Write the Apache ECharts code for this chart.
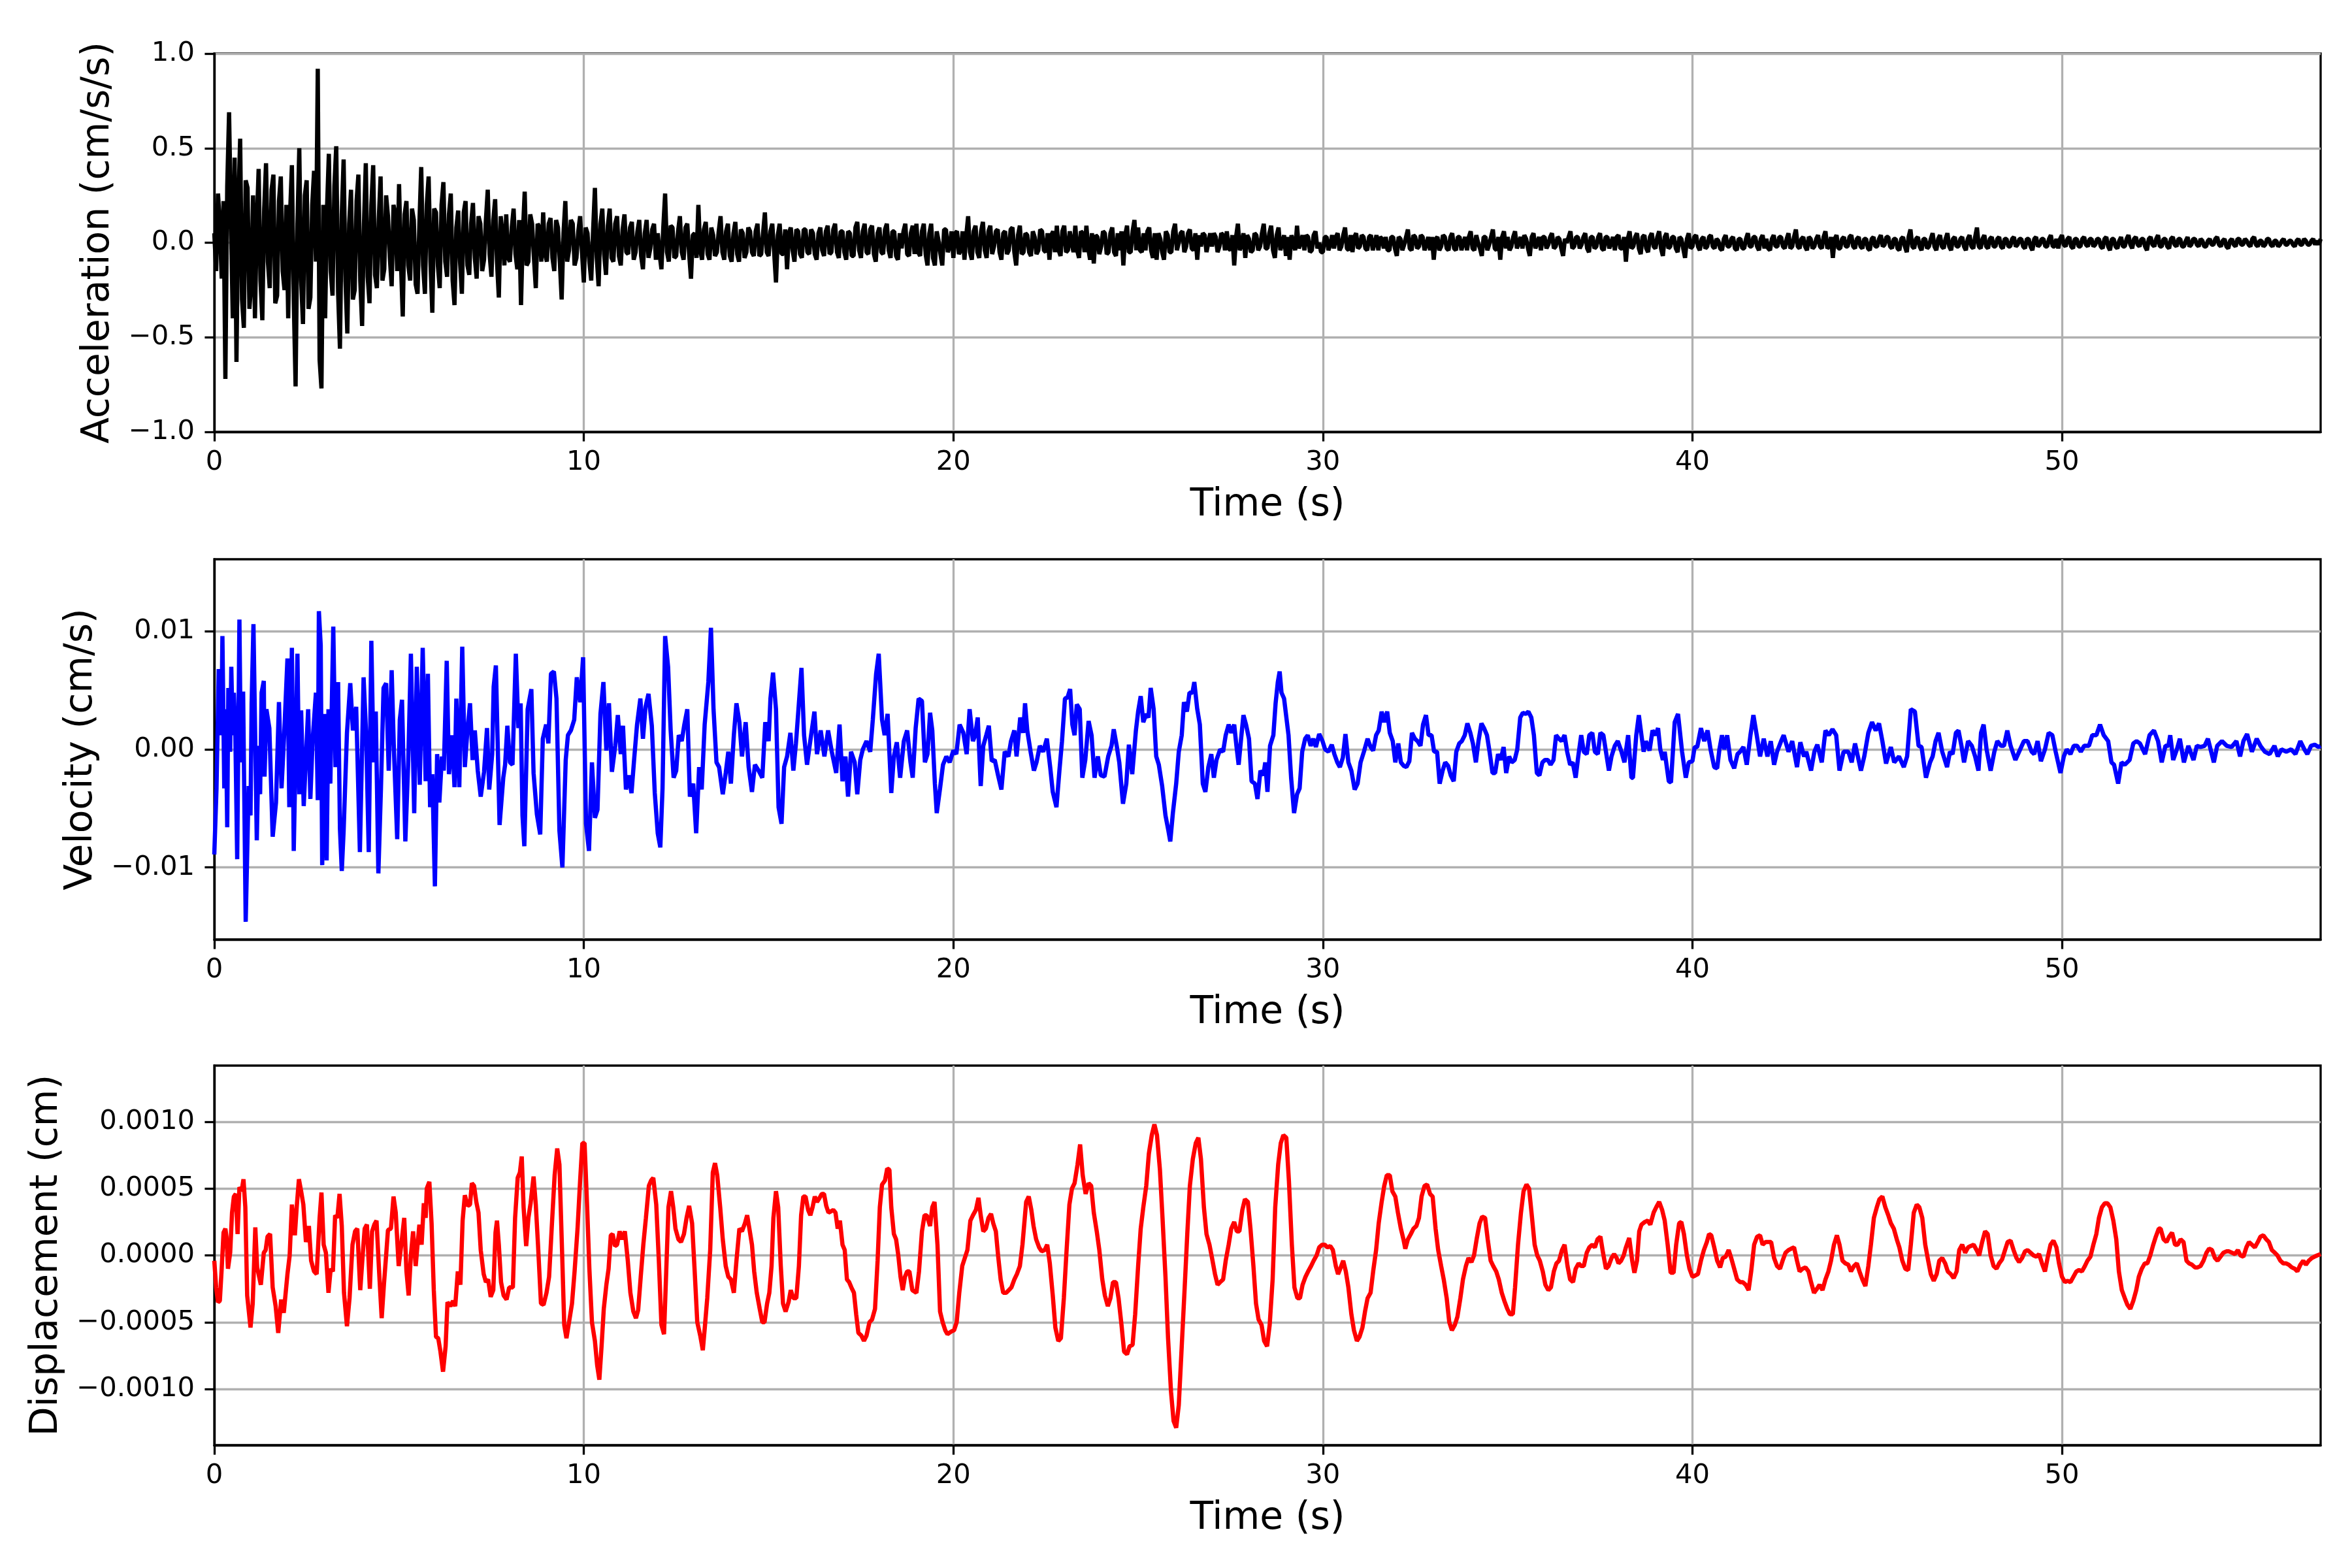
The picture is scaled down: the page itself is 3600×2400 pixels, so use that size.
<!DOCTYPE html>
<html>
<head>
<meta charset="utf-8">
<script src="https://cdn.jsdelivr.net/npm/echarts@6.0.0/dist/echarts.min.js"></script>
<style>
    html, body { margin: 0; padding: 0; background: #fff; }
    #chart { width: 3600px; height: 2400px; }
</style>
</head>
<body>
<div id="chart"></div>
<script>
// Acceleration is read on an even 0.05 s grid; one row = one second.
const ACC_DT = 0.05;
const accValues = [
    0.05, -0.15, 0.26, 0.10, -0.19, 0.22, -0.72, 0.30, 0.69, 0.12, -0.40, 0.45, -0.63, 0.20, 0.55, -0.30, -0.45, 0.33, 0.29, -0.35,
    -0.22, 0.25, -0.40, 0.10, 0.39, -0.20, -0.41, 0.18, 0.42, -0.10, -0.24, 0.28, 0.36, -0.32, -0.28, 0.22, 0.35, -0.15, -0.25, 0.20,
    -0.40, 0.15, 0.41, -0.30, -0.76, 0.10, 0.50, -0.20, -0.43, 0.25, 0.33, -0.35, -0.29, 0.20, 0.38, -0.10, 0.92, -0.62, -0.77, 0.20,
    -0.40, 0.18, 0.47, -0.15, -0.28, 0.30, 0.51, -0.26, -0.56, 0.15, 0.44, -0.20, -0.48, 0.10, 0.28, -0.30, -0.25, 0.22, 0.36, -0.20,
    -0.44, 0.10, 0.42, -0.18, -0.32, 0.20, 0.41, -0.17, -0.24, 0.12, 0.35, -0.20, -0.14, 0.25, 0.14, -0.08, -0.23, 0.20, 0.15, -0.15,
    0.31, -0.10, -0.39, 0.15, 0.22, -0.12, -0.20, 0.18, 0.12, -0.22, -0.27, 0.10, 0.40, -0.12, -0.27, 0.20, 0.35, -0.10, -0.37, 0.18,
    0.16, -0.12, -0.24, 0.20, 0.32, -0.10, -0.18, 0.15, 0.26, -0.20, -0.33, 0.08, 0.17, -0.10, -0.27, 0.16, 0.22, -0.12, -0.17, 0.10,
    0.21, -0.08, -0.19, 0.14, 0.10, -0.15, -0.09, 0.12, 0.28, -0.06, -0.18, 0.12, 0.23, -0.10, -0.29, 0.14, 0.05, -0.12, 0.15, -0.08,
    -0.10, 0.08, 0.18, -0.06, -0.14, 0.12, -0.33, 0.05, 0.27, -0.12, -0.10, 0.15, 0.10, -0.08, -0.24, 0.10, 0.08, -0.10, 0.16, -0.06,
    -0.10, 0.10, 0.13, -0.08, -0.15, 0.12, 0.08, -0.10, -0.30, 0.05, 0.22, -0.10, -0.04, 0.12, 0.10, -0.12, -0.08, 0.06, 0.14, -0.05,
    -0.21, 0.08, 0.05, -0.10, -0.20, 0.06, 0.29, -0.08, -0.23, 0.10, 0.18, -0.06, -0.17, 0.09, 0.18, -0.08, -0.10, 0.10, 0.14, -0.07,
    -0.12, 0.07, 0.15, -0.05, -0.06, 0.08, 0.11, -0.09, -0.05, 0.06, 0.12, -0.07, -0.14, 0.05, 0.12, -0.08, -0.03, 0.07, 0.10, -0.09,
    0.05, -0.06, -0.14, 0.08, 0.26, -0.05, -0.10, 0.09, 0.08, -0.08, -0.07, 0.06, 0.14, -0.05, -0.09, 0.08, 0.10, -0.06, -0.19, 0.04,
    0.05, -0.08, 0.20, -0.04, -0.09, 0.07, 0.11, -0.06, -0.09, 0.08, 0.04, -0.07, -0.05, 0.06, 0.14, -0.05, -0.09, 0.06, 0.10, -0.07,
    -0.10, 0.05, 0.11, -0.06, -0.10, 0.07, 0.05, -0.08, -0.05, 0.08, 0.06, -0.05, -0.07, 0.06, 0.10, -0.07, -0.06, 0.05, 0.16, -0.05,
    -0.07, 0.06, 0.10, -0.05, -0.21, 0.04, 0.10, -0.06, -0.06, 0.07, -0.14, 0.05, 0.08, -0.04, -0.10, 0.07, 0.06, -0.06, -0.08, 0.07,
    0.07, -0.05, -0.06, 0.07, 0.05, -0.06, -0.09, 0.05, 0.08, -0.04, -0.07, 0.06, 0.09, -0.06, -0.05, 0.07, 0.10, -0.05, -0.08, 0.06,
    0.06, -0.05, -0.09, 0.06, 0.05, -0.07, -0.07, 0.08, 0.11, -0.04, -0.08, 0.06, 0.10, -0.05, -0.06, 0.07, 0.09, -0.06, -0.10, 0.05,
    0.08, -0.05, -0.06, 0.07, 0.10, -0.04, -0.08, 0.06, 0.06, -0.07, -0.09, 0.05, -0.03, 0.06, 0.10, -0.06, -0.07, 0.05, 0.09, -0.06,
    0.10, -0.05, -0.07, 0.06, 0.10, -0.06, -0.12, 0.05, 0.10, -0.08, -0.12, 0.06, 0.01, -0.06, -0.12, 0.07, 0.07, -0.05, -0.02, 0.06,
    -0.08, 0.05, 0.06, -0.06, -0.04, 0.06, -0.09, 0.04, 0.14, -0.05, -0.09, 0.06, 0.09, -0.05, -0.08, 0.06, 0.11, -0.04, -0.08, 0.06,
    0.09, -0.06, -0.02, 0.06, 0.07, -0.05, -0.09, 0.05, 0.06, -0.06, -0.04, 0.07, 0.08, -0.05, -0.12, 0.04, 0.09, -0.06, -0.05, 0.05,
    0.04, -0.05, -0.07, 0.06, 0.03, -0.06, -0.04, 0.07, 0.06, -0.04, -0.05, 0.05, -0.09, 0.04, 0.06, -0.05, 0.09, -0.04, -0.07, 0.06,
    0.09, -0.05, -0.04, 0.06, 0.00, -0.05, 0.09, -0.04, -0.08, 0.06, 0.05, -0.05, 0.09, -0.03, -0.09, 0.05, -0.11, 0.04, 0.03, -0.06,
    -0.02, 0.06, 0.05, -0.06, -0.05, 0.05, 0.08, -0.05, -0.07, 0.05, -0.04, 0.06, -0.12, 0.04, 0.09, -0.05, -0.05, 0.06, 0.12, -0.04,
    0.08, -0.04, -0.05, 0.05, -0.04, 0.06, 0.08, -0.04, -0.08, 0.05, -0.09, 0.05, 0.02, -0.05, -0.09, 0.06, 0.04, -0.05, -0.05, 0.06,
    0.10, -0.04, 0.00, 0.05, 0.06, -0.05, -0.02, 0.05, 0.07, -0.03, -0.04, 0.05, -0.09, 0.04, -0.02, 0.05, 0.04, -0.05, 0.00, 0.05,
    -0.02, 0.05, 0.03, -0.05, -0.02, 0.05, 0.04, -0.04, 0.06, -0.03, -0.04, 0.04, -0.12, 0.03, 0.10, -0.04, -0.01, 0.05, -0.08, 0.04,
    0.02, -0.05, -0.04, 0.05, 0.04, -0.04, -0.02, 0.05, 0.10, -0.03, -0.03, 0.05, 0.09, -0.04, -0.08, 0.04, 0.08, -0.04, 0.00, 0.04,
    -0.07, 0.03, -0.09, 0.04, 0.00, -0.04, 0.09, -0.03, 0.00, 0.04, -0.04, 0.04, 0.03, -0.05, -0.04, 0.04, 0.06, -0.03, 0.00, -0.05,
    -0.05, 0.03, 0.03, -0.04, -0.01, 0.04, -0.03, 0.03, 0.05, -0.04, -0.02, 0.04, 0.08, -0.03, -0.04, 0.04, -0.05, 0.03, 0.05, -0.03,
    -0.02, 0.04, 0.03, -0.03, -0.04, 0.03, 0.04, -0.04, 0.00, 0.04, -0.04, 0.03, 0.02, -0.03, 0.03, -0.04, -0.04, 0.03, 0.03, -0.03,
    -0.07, 0.03, 0.02, -0.04, -0.01, 0.03, 0.07, -0.03, -0.04, 0.04, 0.03, -0.03, -0.02, 0.04, 0.03, -0.04, -0.01, 0.03, -0.04, 0.03,
    -0.09, 0.02, 0.03, -0.04, -0.02, 0.04, 0.03, -0.03, -0.04, 0.03, 0.05, -0.03, -0.04, 0.03, 0.03, -0.04, 0.00, 0.03, -0.04, 0.03,
    0.06, -0.03, -0.04, 0.04, 0.00, -0.03, -0.07, 0.03, 0.03, -0.04, -0.01, 0.03, 0.07, -0.03, -0.04, 0.03, -0.09, 0.03, 0.06, -0.03,
    0.03, -0.04, -0.02, 0.03, 0.06, -0.03, 0.00, 0.03, -0.03, 0.04, 0.02, -0.03, -0.07, 0.03, 0.05, -0.03, 0.00, 0.03, -0.04, 0.03,
    0.03, -0.03, -0.01, 0.03, 0.05, -0.03, -0.02, 0.03, 0.02, -0.03, -0.07, 0.02, 0.00, 0.03, 0.06, -0.03, -0.02, 0.03, 0.03, -0.03,
    -0.01, 0.03, 0.05, -0.03, -0.05, 0.03, 0.03, -0.03, -0.02, 0.03, 0.05, -0.03, -0.04, 0.03, 0.03, -0.03, 0.00, 0.03, -0.04, 0.03,
    0.04, -0.03, -0.03, 0.03, -0.10, 0.02, 0.06, -0.03, -0.02, 0.03, 0.05, -0.03, -0.06, 0.03, 0.04, -0.03, -0.05, 0.03, 0.05, -0.02,
    -0.03, 0.03, 0.06, -0.03, -0.07, 0.03, 0.05, -0.03, -0.02, 0.03, 0.03, -0.03, -0.05, 0.03, 0.02, -0.03, -0.08, 0.02, 0.05, -0.03,
    -0.02, 0.03, 0.04, -0.02, -0.04, 0.02, 0.03, -0.03, -0.02, 0.03, 0.04, -0.02, -0.03, 0.02, 0.01, -0.03, -0.04, 0.02, 0.04, -0.02,
    -0.02, 0.02, 0.03, -0.03, -0.04, 0.02, 0.02, -0.03, -0.03, 0.02, 0.05, -0.02, -0.02, 0.03, 0.03, -0.02, -0.04, 0.02, 0.04, -0.03,
    0.02, -0.03, -0.04, 0.02, 0.04, -0.02, -0.02, 0.03, 0.03, -0.02, -0.03, 0.02, 0.05, -0.03, -0.02, 0.03, 0.07, -0.02, -0.03, 0.02,
    0.03, -0.02, -0.04, 0.03, 0.02, -0.03, -0.02, 0.02, 0.04, -0.02, -0.03, 0.03, 0.06, -0.03, -0.02, 0.03, -0.08, 0.02, 0.04, -0.03,
    -0.03, 0.02, 0.03, -0.02, -0.02, 0.03, 0.04, -0.02, -0.03, 0.02, 0.03, -0.02, -0.03, 0.02, 0.02, -0.03, -0.04, 0.02, 0.03, -0.02,
    -0.02, 0.02, 0.04, -0.02, -0.01, 0.03, 0.03, -0.02, -0.03, 0.02, 0.02, -0.03, -0.04, 0.02, 0.03, -0.02, -0.05, 0.03, 0.07, -0.02,
    -0.03, 0.02, 0.03, -0.02, -0.04, 0.02, 0.02, -0.03, -0.02, 0.02, 0.05, -0.02, -0.04, 0.02, 0.04, -0.02, -0.03, 0.02, 0.05, -0.02,
    -0.04, 0.02, 0.03, -0.02, -0.02, 0.02, 0.03, -0.02, -0.04, 0.02, 0.04, -0.02, -0.03, 0.03, 0.08, -0.02, -0.03, 0.02, 0.04, -0.02,
    -0.03, 0.02, 0.03, -0.02, -0.02, 0.02, 0.03, -0.02, -0.03, 0.02, 0.02, -0.02, -0.02, 0.02, 0.03, -0.02, -0.01, 0.02, 0.02, -0.02,
    -0.03, 0.02, 0.02, -0.02, -0.04, 0.02, 0.03, -0.02, -0.01, 0.02, 0.02, -0.02, -0.02, 0.02, 0.04, -0.02, -0.02, 0.02, -0.03, 0.02,
    0.04, -0.01, -0.02, 0.02, 0.03, -0.02, -0.03, 0.02, 0.02, -0.02, -0.02, 0.02, 0.03, -0.01, -0.02, 0.02, 0.02, -0.02, -0.01, 0.02,
    0.02, -0.02, -0.03, 0.02, 0.03, -0.02, -0.04, 0.02, 0.02, -0.02, -0.03, 0.01, 0.03, -0.02, -0.02, 0.02, 0.04, -0.01, -0.03, 0.02,
    0.03, -0.01, -0.02, 0.02, 0.02, -0.02, -0.04, 0.02, 0.03, -0.01, -0.02, 0.02, 0.04, -0.02, -0.02, 0.02, 0.02, -0.02, -0.03, 0.02,
    0.03, -0.01, -0.02, 0.02, 0.02, -0.02, -0.02, 0.01, 0.03, -0.02, -0.01, 0.02, 0.02, -0.01, -0.02, 0.02, 0.01, -0.02, -0.02, 0.01,
    0.02, -0.01, -0.01, 0.02, 0.03, -0.01, -0.02, 0.01, 0.02, -0.02, -0.03, 0.01, 0.02, -0.01, -0.02, 0.02, 0.02, -0.01, -0.01, 0.02,
    0.01, -0.01, -0.02, 0.02, 0.03, -0.01, -0.02, 0.01, 0.01, -0.02, -0.01, 0.02, 0.02, -0.01, -0.02, 0.01, 0.01, -0.02, -0.01, 0.01,
    0.02, -0.01, -0.01, 0.01, 0.01, -0.01, -0.02, 0.01, 0.02, -0.01, -0.01, 0.02, 0.01, -0.01, -0.01, 0.01, 0.02, -0.01, 0.01, -0.01,
    0.02
];

// Velocity, [time s, cm/s].
const velocityPoints = [
    [0,-0.0089],[0.06,-0.0033],[0.12,0.0068],[0.19,0.0012],[0.22,0.0096],[0.27,-0.0033],[0.31,0.0034],[0.35,-0.0066],
    [0.38,0.0052],[0.43,-0.0002],[0.46,0.007],[0.5,0.0012],[0.53,0.0048],[0.57,0.0012],[0.62,-0.0093],[0.68,0.011],
    [0.72,-0.0011],[0.78,0.0049],[0.85,-0.0146],[0.93,-0.0031],[0.98,-0.0056],[1.01,0.0039],[1.06,0.0106],[1.15,-0.0077],
    [1.2,0.0003],[1.24,-0.0038],[1.28,0.0048],[1.34,0.0058],[1.36,-0.0023],[1.41,0.0034],[1.49,0.0018],[1.58,-0.0074],
    [1.67,-0.0045],[1.75,0.004],[1.82,-0.0033],[1.89,0.0012],[1.98,0.0077],[2.03,-0.0049],[2.1,0.0086],[2.15,-0.0086],
    [2.25,0.0081],[2.3,-0.0038],[2.35,0.0033],[2.42,-0.0048],[2.54,0.0034],[2.6,-0.0042],[2.66,0.0007],[2.75,0.0048],
    [2.8,-0.0043],[2.83,0.0117],[2.88,0.0088],[2.92,-0.0098],[2.99,0.003],[3.04,-0.0094],[3.09,0.0034],[3.14,-0.0029],
    [3.22,0.0104],[3.28,-0.0015],[3.35,0.0057],[3.4,-0.0067],[3.45,-0.0103],[3.5,-0.0069],[3.59,0.0014],[3.68,0.0056],
    [3.75,0.0016],[3.84,0.0036],[3.94,-0.0087],[4.04,0.0061],[4.11,0.0012],[4.18,-0.0087],[4.25,0.0092],[4.31,-0.0011],
    [4.37,0.0032],[4.44,-0.0105],[4.51,-0.0033],[4.58,0.0052],[4.65,0.0056],[4.72,-0.0018],[4.8,0.0067],[4.86,0],
    [4.95,-0.0076],[5.02,0.0025],[5.08,0.0042],[5.17,-0.0078],[5.25,-0.0009],[5.32,0.0081],[5.41,-0.0054],[5.48,0.007],
    [5.56,-0.003],[5.64,0.0086],[5.72,-0.0027],[5.78,0.0064],[5.84,-0.0049],[5.9,-0.0021],[5.97,-0.0116],[6.03,-0.0004],
    [6.09,-0.0045],[6.16,-0.0006],[6.21,-0.0018],[6.29,0.0075],[6.35,-0.0021],[6.44,0.0012],[6.5,-0.0032],[6.55,0.0043],
    [6.63,-0.0032],[6.71,0.0087],[6.78,-0.0015],[6.85,0.0016],[6.92,0.0039],[6.99,-0.0009],[7.05,0.0016],[7.13,-0.0018],
    [7.21,-0.004],[7.3,-0.0019],[7.38,0.0018],[7.44,-0.0034],[7.52,-0.0004],[7.56,0.0053],[7.62,0.0071],[7.72,-0.0064],
    [7.82,-0.0024],[7.87,-0.0013],[7.93,0.002],[8.0,-0.0011],[8.07,-0.0013],[8.16,0.0081],[8.23,0.0018],[8.29,0.0039],
    [8.34,-0.0056],[8.39,-0.0082],[8.48,0.0034],[8.58,0.0051],[8.64,-0.002],[8.73,-0.0055],[8.82,-0.0072],[8.89,0.0009],
    [8.98,0.0021],[9.04,0.0005],[9.11,0.0064],[9.19,0.0066],[9.26,0.0043],[9.34,-0.0069],[9.42,-0.01],[9.51,-0.0009],
    [9.57,0.0012],[9.65,0.0016],[9.74,0.0025],[9.81,0.0061],[9.9,0.004],[9.98,0.0078],[10.06,-0.0063],[10.14,-0.0086],
    [10.22,-0.0011],[10.3,-0.0058],[10.37,-0.0051],[10.45,0.003],[10.53,0.0057],[10.61,-0.0001],[10.68,0.0039],[10.76,-0.0019],
    [10.85,0.0003],[10.92,0.0029],[11.0,-0.0004],[11.06,0.002],[11.14,-0.0034],[11.21,-0.0022],[11.29,-0.0037],[11.36,-0.0009],
    [11.44,0.0021],[11.53,0.0043],[11.6,0.0009],[11.67,0.0036],[11.75,0.0047],[11.84,0.002],[11.92,-0.0037],[12.0,-0.0071],
    [12.07,-0.0083],[12.13,-0.0033],[12.2,0.0096],[12.28,0.007],[12.35,0.0016],[12.43,-0.0024],[12.5,-0.0018],[12.57,0.0012],
    [12.65,0.0007],[12.72,0.0021],[12.8,0.0034],[12.87,-0.004],[12.96,-0.0029],[13.04,-0.0071],[13.12,-0.0015],[13.19,-0.0034],
    [13.27,0.0021],[13.37,0.0057],[13.44,0.0103],[13.51,0.0034],[13.59,-0.0011],[13.66,-0.0015],[13.76,-0.0038],[13.84,-0.002],
    [13.91,-0.0002],[13.98,-0.0029],[14.06,0.0012],[14.13,0.0039],[14.21,0.0023],[14.28,-0.0006],[14.38,0.0023],[14.46,-0.0015],
    [14.55,-0.0036],[14.63,-0.0013],[14.73,-0.0018],[14.83,-0.0024],[14.91,0.0023],[15.0,0.0007],[15.05,0.0043],[15.12,0.0065],
    [15.2,0.0034],[15.27,-0.0049],[15.35,-0.0063],[15.42,-0.0015],[15.5,-0.0006],[15.59,0.0014],[15.67,-0.0018],[15.74,0.0005],
    [15.82,0.0039],[15.89,0.0069],[15.96,0.0012],[16.04,-0.0013],[16.11,0.0003],[16.24,0.0032],[16.31,-0.0004],[16.41,0.0016],
    [16.51,-0.0006],[16.61,0.0016],[16.71,-0.0002],[16.83,-0.002],[16.92,0.0021],[17.0,-0.0027],[17.08,-0.0006],[17.15,-0.004],
    [17.23,-0.0002],[17.33,-0.0011],[17.4,-0.0038],[17.48,-0.0009],[17.55,0],[17.65,0.0007],[17.75,-0.0002],[17.82,0.0025],
    [17.91,0.0064],[17.98,0.0081],[18.07,0.0025],[18.14,0.0012],[18.22,0.003],[18.32,-0.0037],[18.39,-0.0006],[18.47,0.0006],
    [18.56,-0.0024],[18.66,0.0007],[18.75,0.0016],[18.84,-0.0011],
    [18.9,-0.0024],[18.98,0.0018],[19.06,0.0043],[19.15,0.0041],[19.23,-0.0011],[19.3,-0.0004],[19.37,0.0031],[19.43,0.0016],
    [19.5,-0.0029],[19.55,-0.0054],[19.64,-0.0033],[19.72,-0.0013],[19.81,-0.0006],[19.9,-0.0011],[20.0,-0.0001],[20.08,-0.0004],
    [20.17,0.0021],[20.27,0.0014],[20.36,-0.0004],[20.44,0.0034],[20.53,0.0007],[20.59,0.0012],[20.66,0.0027],[20.74,-0.0031],
    [20.81,0.0003],[20.89,0.0012],[20.96,0.002],[21.04,-0.001],[21.12,-0.0009],[21.21,-0.0022],[21.3,-0.0034],[21.39,-0.0002],
    [21.49,-0.0006],[21.56,0.0007],[21.65,0.0016],[21.71,-0.0006],[21.81,0.0027],[21.89,0.0014],[21.94,0.0039],[22.0,0.0016],
    [22.09,-0.0002],[22.18,-0.0018],[22.25,-0.0011],[22.34,0.0003],[22.43,-0.0002],[22.53,0.0009],[22.62,-0.0015],[22.69,-0.0036],
    [22.79,-0.0049],[22.87,-0.0018],[22.94,0.0007],[23.02,0.0043],[23.09,0.0044],[23.16,0.0051],[23.22,0.0021],[23.28,0.0012],
    [23.34,0.0038],[23.42,0.0034],[23.49,-0.0024],[23.57,-0.0009],[23.66,0.0024],[23.74,0.0012],[23.82,-0.0024],[23.91,-0.0006],
    [23.99,-0.0022],[24.09,-0.0023],[24.19,-0.0006],[24.28,0.0003],[24.34,0.0017],[24.42,0.0003],[24.49,-0.0011],[24.59,-0.0046],
    [24.68,-0.0029],[24.75,0.0004],[24.84,-0.0021],[24.94,0.0016],[25.0,0.0032],[25.07,0.0045],[25.14,0.0023],[25.22,0.003],
    [25.28,0.0027],[25.34,0.0052],[25.42,0.0034],[25.49,-0.0006],[25.56,-0.0013],[25.65,-0.0031],[25.74,-0.0056],[25.82,-0.0069],
    [25.87,-0.0078],[25.94,-0.0054],[26.03,-0.0029],[26.1,-0.0002],[26.18,0.0012],[26.24,0.004],[26.32,0.0032],[26.39,0.0048],
    [26.47,0.0048],[26.52,0.0057],[26.6,0.0034],[26.67,0.0021],[26.75,-0.0029],[26.82,-0.0036],[26.9,-0.0015],[26.98,-0.0004],
    [27.05,-0.0024],[27.12,-0.0009],[27.22,0],[27.3,-0.0002],[27.37,0.0012],[27.45,0.0021],[27.52,0.0014],[27.6,0.0021],
    [27.66,0.0003],[27.72,-0.0013],[27.78,0.0007],[27.85,0.0029],[27.92,0.0021],[28.0,0.0009],[28.07,-0.0027],[28.16,-0.0029],
    [28.23,-0.0042],[28.31,-0.0018],[28.39,-0.0022],[28.44,-0.0011],[28.5,-0.0036],[28.57,0.0003],[28.66,0.0012],[28.72,0.0039],
    [28.78,0.0057],[28.83,0.0066],[28.88,0.0048],[28.95,0.0043],[29.0,0.003],[29.07,0.0012],[29.14,-0.0024],[29.22,-0.0054],
    [29.3,-0.0038],[29.37,-0.0033],[29.44,-0.0002],[29.52,0.0009],[29.59,0.0012],[29.67,0.0003],[29.74,0.0009],[29.81,0.0002],
    [29.9,0.0013],[29.99,0.0007],[30.06,0],[30.15,-0.0002],[30.24,0.0004],[30.31,-0.0004],[30.39,-0.0011],[30.46,-0.0015],
    [30.54,-0.0007],[30.61,0.0013],[30.69,-0.0011],[30.77,-0.0018],[30.86,-0.0034],[30.94,-0.0029],[31.02,-0.0011],[31.11,-0.0002],
    [31.21,0.0009],[31.29,0.0002],[31.36,-0.0001],[31.44,0.0012],[31.51,0.0016],[31.59,0.0032],[31.66,0.0023],[31.74,0.0032],
    [31.81,0.0014],[31.89,0.0007],[31.96,-0.0011],[32.04,0.0005],[32.11,-0.0011],[32.19,-0.0014],[32.26,-0.0015],[32.34,-0.001],
    [32.41,0.0014],[32.49,0.0009],[32.56,0.0007],[32.64,0.0003],[32.71,0.0021],[32.79,0.0029],[32.86,0.0012],[32.94,0.0012],
    [33.01,-0.0002],[33.09,-0.0002],[33.16,-0.0029],[33.24,-0.0018],[33.31,-0.0011],[33.39,-0.0014],[33.46,-0.0022],[33.54,-0.0027],
    [33.61,-0.0002],[33.69,0.0005],[33.76,0.0007],[33.84,0.0012],[33.91,0.0022],[33.99,0.0014],[34.06,0.0005],[34.14,-0.0011],
    [34.21,0.0007],[34.29,0.0022],[34.36,0.0018],[34.44,0.0012],[34.51,-0.0002],[34.59,-0.002],[34.66,-0.002],[34.74,-0.0004],
    [34.81,-0.0009],[34.89,0.0002],[34.96,-0.002],[35.04,-0.0006],[35.11,-0.0011],[35.19,-0.0009],[35.26,0],[35.34,0.0027],
    [35.41,0.0031],[35.49,0.003],[35.56,0.0032],[35.64,0.0027],[35.71,0.0012],[35.79,-0.002],[35.86,-0.0022],[35.94,-0.0011],
    [36.01,-0.0009],[36.09,-0.0009],[36.16,-0.0013],[36.24,-0.0009],[36.31,0.0012],[36.39,0.0009],[36.46,0.0007],[36.54,0.0012],
    [36.61,-0.0002],[36.69,-0.0013],[36.76,-0.0011],[36.84,-0.0024],[36.91,-0.0006],[36.99,0.0012],[37.06,-0.0002],[37.14,-0.0004],
    [37.21,0.0012],[37.29,0.0014],[37.36,-0.0002],[37.44,-0.0004],[37.51,0.0014],[37.59,0.0012],[37.66,-0.0002],[37.74,-0.0018],
    [37.81,-0.0006],[37.9,0.0003],[37.98,0.0007],[38.08,-0.0002],[38.16,-0.0011],
    [38.26,0.0012],[38.35,-0.0024],[38.39,-0.0024],[38.48,0.0012],[38.55,0.0029],[38.62,0.0012],[38.68,-0.0002],[38.74,0.0007],
    [38.84,-0.0001],[38.92,0.0016],[39.0,0.0012],[39.07,0.0018],[39.13,0],[39.2,-0.0009],[39.25,-0.0002],[39.36,-0.0027],
    [39.42,-0.0028],[39.52,0.0023],[39.61,0.003],[39.72,-0.0002],[39.82,-0.0024],[39.9,-0.0011],[40.0,-0.001],[40.06,0.0002],
    [40.13,0.0002],[40.23,0.0018],[40.32,0.0007],[40.41,0.0016],[40.49,0],[40.59,-0.0015],[40.67,-0.0016],[40.73,0],
    [40.8,0.0012],[40.86,0],[40.94,0.0012],[41.03,-0.0009],[41.13,-0.0016],[41.22,-0.0004],[41.29,-0.0002],[41.38,0.0002],
    [41.47,-0.0013],[41.57,0.0012],[41.65,0.0029],[41.74,0.0012],[41.83,-0.0006],[41.93,0.0009],[42.03,-0.0006],[42.12,0.0007],
    [42.21,-0.0013],[42.29,-0.0002],[42.4,0.0007],[42.47,0.0012],[42.6,-0.0002],[42.7,0.0007],[42.83,-0.0015],[42.92,0.0006],
    [43.02,-0.0006],[43.08,-0.0002],[43.21,-0.0018],[43.3,-0.0002],[43.38,0.0004],[43.5,-0.0011],[43.6,0.0016],[43.69,0.0012],
    [43.79,0.0017],[43.89,0.0012],[43.98,-0.0018],[44.09,-0.0002],[44.22,-0.0002],[44.31,-0.0011],[44.4,0.0005],[44.56,-0.0018],
    [44.65,-0.0006],[44.76,0.0014],[44.86,0.0023],[44.96,0.0016],[45.05,0.0022],[45.14,0.0007],[45.24,-0.0012],[45.37,0.0002],
    [45.46,-0.0011],[45.59,-0.0006],[45.72,-0.0015],[45.81,-0.0006],[45.91,0.0034],[46.02,0.0032],[46.12,0.0003],[46.2,0.0002],
    [46.32,-0.0024],[46.43,-0.0011],[46.5,-0.0006],[46.58,0.0007],[46.66,0.0014],[46.76,-0.0002],[46.89,-0.0015],[46.97,-0.0002],
    [47.04,-0.0004],[47.13,0.0014],[47.2,0.0016],[47.28,0.0003],[47.35,-0.0011],[47.46,0.0007],[47.56,0.0003],[47.65,-0.0006],
    [47.74,-0.0018],[47.81,0.0014],[47.88,0.0021],[47.96,0],[48.07,-0.0018],[48.17,-0.0002],[48.25,0.0007],[48.35,0.0003],
    [48.43,0.0003],[48.52,0.0016],[48.61,0.0003],[48.74,-0.0009],[48.84,-0.0002],[48.97,0.0007],[49.07,0.0007],[49.18,-0.0002],
    [49.25,-0.0004],[49.34,0.0007],[49.43,-0.001],[49.54,0],[49.64,0.0014],[49.74,0.0012],[49.83,-0.0002],[49.96,-0.002],
    [50.05,-0.0006],[50.13,0],[50.23,-0.0004],[50.32,0.0003],[50.41,0.0003],[50.51,-0.0002],[50.6,0.0003],[50.73,0.0003],
    [50.82,0.0012],[50.93,0.0012],[51.03,0.0021],[51.13,0.0012],[51.25,0.0007],[51.34,-0.0011],[51.41,-0.0013],[51.52,-0.0029],
    [51.61,-0.0011],[51.7,-0.0013],[51.83,-0.0009],[51.93,0.0005],[52.02,0.0007],[52.11,0.0005],[52.25,-0.0004],[52.37,0.0012],
    [52.49,0.0016],[52.6,0.0007],[52.7,-0.0011],[52.8,0.0003],[52.88,0.0003],[52.93,0.0012],[53.01,-0.0009],[53.11,0],
    [53.19,0.0009],[53.3,-0.0011],[53.42,0.0003],[53.56,-0.0009],[53.65,0.0003],[53.75,0.0002],[53.86,0.0003],[53.95,0.0009],
    [54.11,-0.0011],[54.2,0.0003],[54.33,0.0007],[54.46,0.0003],[54.59,0.0002],[54.72,0.0007],[54.82,-0.0006],[54.91,0.0007],
    [55.01,0.0013],[55.14,-0.0002],[55.27,0.0009],[55.37,0.0003],[55.49,-0.0002],[55.62,-0.0004],[55.75,0.0003],[55.84,-0.0006],
    [55.94,0],[56.07,-0.0002],[56.2,0],[56.32,-0.0004],[56.45,0.0007],[56.56,0],[56.64,-0.0004],[56.74,0.0003],
    [56.84,0.0004],[56.94,0.0002],[57.0,0.0003]
];

// Displacement, [time s, cm].
const displacementPoints = [
    [0,-0.00004],[0.05,-0.00024],[0.1,-0.00035],[0.15,-0.00034],[0.2,-0.0001],[0.25,0.00017],[0.3,0.0002],[0.33,0.00014],
    [0.37,-0.0001],[0.43,0.00002],[0.48,0.00032],[0.53,0.00044],[0.58,0.00046],[0.63,0.00016],[0.68,0.00051],[0.74,0.00048],
    [0.79,0.00057],[0.84,0.00036],[0.89,-0.0003],[0.98,-0.00054],[1.04,-0.00036],[1.11,0.00021],[1.16,-0.00009],[1.26,-0.00022],
    [1.34,0.00002],[1.39,0.00004],[1.44,0.00014],[1.51,0.00016],[1.58,-0.00024],[1.66,-0.00038],[1.73,-0.00058],[1.81,-0.00033],
    [1.88,-0.00043],[1.98,-0.00014],[2.04,0],[2.1,0.00038],[2.18,0.00015],[2.23,0.00036],[2.29,0.00057],[2.35,0.00048],
    [2.41,0.00038],[2.48,0.0001],[2.56,0.00022],[2.62,-0.00004],[2.7,-0.00012],[2.77,-0.00014],[2.85,0.00028],[2.9,0.00047],
    [2.96,0.00008],[3.02,0.00002],[3.09,-0.00028],[3.15,-0.0001],[3.21,-0.00012],[3.27,0.0003],[3.33,0.00028],[3.39,0.00046],
    [3.45,0.00022],[3.51,-0.00028],[3.59,-0.00053],[3.66,-0.00032],[3.74,0.00008],[3.81,0.00018],[3.87,0.0002],[3.95,-0.00026],
    [4.02,0.00002],[4.07,0.0002],[4.13,0.00023],[4.21,-0.00025],[4.27,0.00018],[4.33,0.00023],[4.39,0.00026],[4.46,-0.00012],
    [4.53,-0.00047],[4.59,-0.00022],[4.65,0],[4.7,0.00019],[4.78,0.0002],[4.85,0.00044],[4.91,0.00032],[4.99,-0.00008],
    [5.06,0.00008],[5.14,0.00028],[5.2,-0.00012],[5.26,-0.0003],[5.32,0],[5.38,0.00018],[5.45,-0.00008],[5.5,0.00008],
    [5.55,0.00023],[5.61,0.00008],[5.67,0.00039],[5.72,0.00028],[5.75,0.0005],[5.82,0.00055],[5.88,0.00024],[5.94,-0.00026],
    [6.0,-0.00061],[6.06,-0.00062],[6.12,-0.00072],[6.19,-0.00087],[6.26,-0.00068],[6.31,-0.00035],[6.39,-0.00038],[6.46,-0.00034],
    [6.52,-0.00038],[6.59,-0.00012],[6.66,-0.00022],[6.72,0.00026],[6.78,0.00045],[6.86,0.00037],[6.92,0.00038],[6.97,0.00054],
    [7.03,0.00052],[7.09,0.0004],[7.15,0.00032],[7.21,0.00004],[7.29,-0.00014],[7.35,-0.0002],[7.41,-0.00018],[7.48,-0.00031],
    [7.55,-0.00026],[7.61,0.00017],[7.65,0.00026],[7.7,0.00008],[7.76,-0.0002],[7.83,-0.0003],[7.91,-0.00033],[7.98,-0.00024],
    [8.08,-0.00024],[8.14,0.00028],[8.21,0.00058],[8.27,0.00062],[8.32,0.00074],[8.37,0.00036],[8.44,0.00007],[8.5,0.00028],
    [8.56,0.00039],[8.64,0.00059],[8.7,0.00038],[8.76,0.00008],[8.84,-0.00036],[8.91,-0.00037],[8.99,-0.00028],[9.06,-0.00016],
    [9.13,0.0002],[9.21,0.0006],[9.28,0.0008],[9.34,0.00068],[9.41,0.00004],[9.47,-0.00052],[9.53,-0.00062],[9.6,-0.0005],
    [9.68,-0.00036],[9.75,-0.00012],[9.83,0.0002],[9.9,0.00056],[9.96,0.00084],[10.02,0.00084],[10.09,0.00036],[10.15,-0.0001],
    [10.22,-0.0005],[10.3,-0.00064],[10.36,-0.00082],[10.42,-0.00093],[10.48,-0.00068],[10.54,-0.0004],[10.61,-0.00022],[10.67,-0.0001],
    [10.73,0.00015],[10.78,0.00016],[10.84,0.00007],[10.9,0.00008],[10.97,0.00018],[11.04,0.00012],[11.11,0.00018],[11.19,-0.00004],
    [11.26,-0.00028],[11.34,-0.00042],[11.41,-0.00047],[11.47,-0.00041],[11.54,-0.00016],[11.61,0.00008],[11.68,0.00028],[11.76,0.00052],
    [11.82,0.00056],[11.88,0.00058],[11.96,0.00038],[12.03,-0.00004],[12.1,-0.00052],[12.17,-0.00059],[12.23,-0.00012],[12.29,0.00036],
    [12.36,0.00048],[12.42,0.00036],[12.48,0.0002],[12.56,0.00012],[12.63,0.0001],[12.71,0.00016],[12.78,0.00028],[12.85,0.00037],
    [12.93,0.00024],[13.0,-0.00012],[13.07,-0.0005],[13.15,-0.0006],[13.22,-0.00071],[13.28,-0.00052],[13.34,-0.00032],[13.42,0.00004],
    [13.49,0.00062],[13.55,0.00069],[13.61,0.0006],[13.69,0.00036],[13.76,0.00012],[13.84,-0.00008],[13.91,-0.00016],[13.98,-0.00018],
    [14.06,-0.00028],[14.13,-0.00004],[14.21,0.0002],[14.28,0.00018],[14.36,0.00024],[14.42,0.0003],[14.48,0.0002],[14.55,0.00008],
    [14.61,-0.00012],[14.68,-0.00028],[14.76,-0.0004],[14.83,-0.0005],[14.89,-0.0005],[14.96,-0.00036],[15.02,-0.00028],[15.08,-0.00008],
    [15.13,0.00028],[15.2,0.00048],[15.26,0.00036],[15.33,-0.00008],[15.39,-0.00036],[15.46,-0.00042],[15.54,-0.00035],[15.6,-0.00026],
    [15.67,-0.00032],[15.75,-0.00032],[15.82,-0.00008],[15.88,0.0003],[15.94,0.00044],[16.0,0.00044],[16.07,0.00034],[16.13,0.0003],
    [16.19,0.00036],[16.25,0.00044],[16.31,0.0004],[16.38,0.00043],[16.44,0.00046],[16.5,0.00046],[16.56,0.00037],[16.62,0.00032],
    [16.69,0.00033],[16.75,0.00034],[16.81,0.00032],[16.87,0.0002],[16.93,0.00026],[17.0,0.00008],[17.06,0.00004],[17.12,-0.00018],
    [17.18,-0.0002],[17.24,-0.00024],[17.31,-0.00028],[17.37,-0.00044],[17.43,-0.00058],[17.51,-0.0006],[17.58,-0.00064],[17.65,-0.0006],
    [17.73,-0.0005],[17.8,-0.00048],[17.88,-0.0004],[17.95,-0.00004],[18.01,0.00036],[18.07,0.00053],[18.15,0.00056],[18.21,0.00065],
    [18.27,0.00064],[18.32,0.00036],[18.39,0.00016],[18.45,0.00012],[18.51,0],[18.57,-0.00016],[18.63,-0.00026],[18.69,-0.00016],
    [18.75,-0.00012],[18.81,-0.00012],[18.89,-0.00026],
    [19.0,-0.00028],[19.07,-0.00012],[19.15,0.00018],[19.22,0.0003],[19.28,0.0003],[19.37,0.00022],[19.43,0.00036],[19.49,0.0004],
    [19.57,0.00008],[19.64,-0.00042],[19.71,-0.0005],[19.78,-0.00056],[19.84,-0.00059],[19.94,-0.00057],[20.02,-0.00056],[20.09,-0.0005],
    [20.16,-0.00028],[20.24,-0.00008],[20.31,-0.00002],[20.38,0.00004],[20.46,0.00026],[20.53,0.0003],[20.61,0.00034],[20.68,0.00043],
    [20.74,0.0003],[20.81,0.00018],[20.88,0.0002],[20.95,0.00028],[21.02,0.00031],[21.08,0.00024],[21.15,0.00018],[21.21,0],
    [21.28,-0.00018],[21.35,-0.00028],[21.43,-0.00028],[21.5,-0.00026],[21.57,-0.00024],[21.65,-0.00018],[21.72,-0.00014],[21.8,-0.00008],
    [21.87,0.00008],[21.92,0.00024],[21.97,0.0004],[22.04,0.00044],[22.11,0.00034],[22.17,0.00022],[22.24,0.00012],[22.32,0.00006],
    [22.39,0.00003],[22.47,0.00004],[22.54,0.00008],[22.61,-0.00006],[22.69,-0.0003],[22.76,-0.00054],[22.84,-0.00064],[22.91,-0.00062],
    [22.99,-0.00032],[23.06,0.00002],[23.14,0.00038],[23.21,0.0005],[23.28,0.00054],[23.36,0.00068],[23.43,0.00083],[23.5,0.0006],
    [23.58,0.00046],[23.66,0.00054],[23.73,0.00052],[23.8,0.00032],[23.88,0.00018],[23.95,0.00004],[24.03,-0.00018],[24.1,-0.0003],
    [24.18,-0.00038],[24.25,-0.00032],[24.32,-0.0002],[24.4,-0.0002],[24.47,-0.00032],[24.55,-0.00052],[24.62,-0.00072],[24.7,-0.00074],
    [24.77,-0.00068],[24.85,-0.00067],[24.92,-0.00044],[25.0,-0.00008],[25.07,0.0002],[25.14,0.00036],[25.22,0.00052],[25.29,0.00076],
    [25.37,0.0009],[25.44,0.00098],[25.51,0.0009],[25.59,0.00064],[25.66,0.00028],[25.74,-0.00016],[25.81,-0.00062],[25.89,-0.00102],
    [25.96,-0.00124],[26.03,-0.00129],[26.1,-0.00112],[26.18,-0.00068],[26.26,-0.00024],[26.33,0.00016],[26.4,0.00052],[26.48,0.00072],
    [26.56,0.00084],[26.63,0.00088],[26.7,0.00072],[26.78,0.00036],[26.85,0.00016],[26.93,0.00008],[27.0,-0.00002],[27.08,-0.00014],
    [27.15,-0.00022],[27.22,-0.0002],[27.3,-0.00018],[27.37,-0.00004],[27.45,0.00008],[27.52,0.0002],[27.6,0.00025],[27.67,0.00018],
    [27.74,0.00018],[27.82,0.00034],[27.89,0.00042],[27.97,0.0004],[28.04,0.0002],[28.12,-0.00008],[28.19,-0.00036],[28.26,-0.00048],
    [28.34,-0.00052],[28.41,-0.00064],[28.49,-0.00068],[28.56,-0.00052],[28.64,-0.00018],[28.71,0.00036],[28.79,0.00068],[28.86,0.00084],
    [28.93,0.0009],[29.01,0.00088],[29.08,0.00056],[29.16,0.00008],[29.23,-0.00024],[29.31,-0.00032],[29.38,-0.00032],[29.45,-0.00022],
    [29.53,-0.00016],[29.6,-0.00012],[29.68,-0.00008],[29.75,-0.00004],[29.83,0],[29.9,0.00006],[29.98,0.00008],[30.05,0.00008],
    [30.12,0.00006],[30.2,0.00007],[30.27,0.00004],[30.35,-0.00008],[30.41,-0.00014],[30.47,-0.0001],[30.55,-0.00004],[30.62,-0.00012],
    [30.69,-0.00024],[30.77,-0.00044],[30.84,-0.00056],[30.92,-0.00064],[30.99,-0.00061],[31.07,-0.00054],[31.14,-0.00042],[31.21,-0.00032],
    [31.29,-0.00028],[31.36,-0.00012],[31.44,0.00004],[31.51,0.00024],[31.59,0.0004],[31.66,0.00052],[31.73,0.0006],[31.81,0.0006],
    [31.88,0.00048],[31.96,0.00044],[32.03,0.00032],[32.11,0.0002],[32.18,0.00012],[32.23,0.00005],[32.3,0.00012],[32.38,0.00016],
    [32.45,0.0002],[32.53,0.00022],[32.6,0.00028],[32.67,0.00044],[32.75,0.00052],[32.82,0.00053],[32.9,0.00046],[32.97,0.00044],
    [33.05,0.0002],[33.12,0.00004],[33.2,-0.00008],[33.27,-0.00018],[33.35,-0.00032],[33.42,-0.0005],[33.49,-0.00056],[33.57,-0.00052],
    [33.64,-0.00046],[33.72,-0.00032],[33.79,-0.00018],[33.87,-0.00008],[33.94,-0.00002],[34.02,-0.00005],[34.09,0],[34.16,0.00012],
    [34.24,0.00024],[34.31,0.00029],[34.39,0.00028],[34.46,0.00012],[34.54,-0.00004],[34.61,-0.00008],[34.69,-0.00012],[34.76,-0.00018],
    [34.84,-0.00028],[34.91,-0.00034],[34.99,-0.0004],[35.06,-0.00044],[35.14,-0.00044],[35.2,-0.00024],[35.28,0.00008],[35.36,0.00032],
    [35.43,0.00048],[35.51,0.00053],[35.58,0.0005],[35.66,0.00028],[35.73,0.00008],[35.8,0],[35.87,-0.00004],[35.95,-0.00012],
    [36.02,-0.00022],[36.1,-0.00026],[36.17,-0.00024],[36.25,-0.00012],[36.32,-0.00006],[36.39,-0.00004],[36.47,0.00004],[36.54,0.00008],
    [36.62,-0.00008],[36.69,-0.00018],[36.77,-0.0002],[36.84,-0.0001],[36.92,-0.00006],[36.99,-0.00008],[37.06,-0.00008],[37.14,0.00002],
    [37.21,0.00006],[37.29,0.00008],[37.36,0.00006],[37.43,0.00012],[37.51,0.00014],[37.58,0.00002],[37.66,-0.0001],[37.73,-0.00008],
    [37.81,-0.00002],[37.88,0.00001],[37.95,-0.00002],[38.0,-0.00006],
    [38.07,-0.00004],[38.14,0],[38.2,0.00006],[38.29,0.00013],[38.37,-0.00004],[38.43,-0.00013],[38.5,-0.00004],[38.56,0.00018],
    [38.62,0.00023],[38.71,0.00025],[38.79,0.00026],[38.86,0.00023],[38.95,0.00032],[39.02,0.00036],[39.1,0.0004],[39.18,0.00034],
    [39.25,0.00026],[39.33,0.00008],[39.41,-0.00013],[39.49,-0.00013],[39.56,0.00008],[39.64,0.00024],[39.7,0.00025],[39.77,0.00016],
    [39.85,0],[39.92,-0.0001],[40.0,-0.00016],[40.08,-0.00015],[40.15,-0.00014],[40.23,-0.00004],[40.31,0.00004],[40.39,0.0001],
    [40.45,0.00016],[40.51,0.00015],[40.59,0.00006],[40.67,-0.00004],[40.75,-0.00009],[40.82,-0.00002],[40.9,-0.00001],[40.98,0.00004],
    [41.05,-0.00002],[41.13,-0.0001],[41.21,-0.00018],[41.29,-0.0002],[41.36,-0.0002],[41.44,-0.00022],[41.52,-0.00026],[41.59,-0.00012],
    [41.67,0.00008],[41.75,0.00014],[41.83,0.00015],[41.9,0.00008],[41.98,0.0001],[42.06,0.0001],[42.13,0.0001],[42.21,-0.00002],
    [42.29,-0.00008],[42.37,-0.0001],[42.44,-0.00004],[42.52,0.00002],[42.6,0.00004],[42.67,0.00005],[42.75,0.00006],[42.83,-0.00004],
    [42.9,-0.00012],[42.98,-0.0001],[43.06,-0.00009],[43.14,-0.00012],[43.21,-0.0002],[43.29,-0.00028],[43.37,-0.00025],[43.44,-0.00022],
    [43.52,-0.00026],[43.6,-0.00018],[43.68,-0.00012],[43.75,-0.00004],[43.83,0.00008],[43.91,0.00015],[43.98,0.00008],[44.06,-0.00004],
    [44.14,-0.00006],[44.22,-0.00007],[44.29,-0.00012],[44.37,-0.00008],[44.45,-0.00006],[44.52,-0.00012],[44.6,-0.00018],[44.68,-0.00023],
    [44.76,-0.00008],[44.83,0.00008],[44.91,0.00028],[44.99,0.00036],[45.06,0.00042],[45.14,0.00044],[45.22,0.00036],[45.3,0.0003],
    [45.37,0.00024],[45.45,0.0002],[45.53,0.00012],[45.6,0.00006],[45.68,-0.00004],[45.76,-0.0001],[45.84,-0.00011],[45.91,0.00008],
    [45.99,0.00032],[46.07,0.00038],[46.14,0.00036],[46.22,0.00028],[46.3,0.00008],[46.38,-0.00004],[46.45,-0.00014],[46.53,-0.00019],
    [46.61,-0.00014],[46.68,-0.00004],[46.76,-0.00002],[46.84,-0.00006],[46.91,-0.00012],[46.99,-0.00014],[47.07,-0.00017],[47.15,-0.00012],
    [47.22,0.00004],[47.3,0.00008],[47.38,0.00002],[47.46,0.00006],[47.53,0.00007],[47.61,0.00008],[47.69,0.00004],[47.76,0],
    [47.84,0.0001],[47.92,0.00018],[47.99,0.00016],[48.07,0],[48.15,-0.00008],[48.23,-0.0001],[48.3,-0.00006],[48.38,-0.00003],
    [48.46,0.00004],[48.53,0.0001],[48.61,0.00011],[48.69,0.00004],[48.77,-0.00002],[48.84,-0.00005],[48.92,-0.00002],[49.0,0.00003],
    [49.07,0.00004],[49.15,0.00002],[49.23,0],[49.31,-0.00001],[49.38,0.00001],[49.46,-0.00006],[49.54,-0.00012],[49.61,-0.00002],
    [49.69,0.00008],[49.77,0.00011],[49.85,0.00006],[49.92,-0.00006],[50.0,-0.00016],[50.08,-0.0002],[50.15,-0.00019],[50.23,-0.0002],
    [50.31,-0.00016],[50.39,-0.00012],[50.46,-0.00011],[50.54,-0.00012],[50.62,-0.00008],[50.69,-0.00004],[50.77,-0.00001],[50.85,0.00008],
    [50.93,0.00016],[51.0,0.00028],[51.08,0.00036],[51.16,0.00039],[51.23,0.00039],[51.31,0.00036],[51.39,0.00026],[51.47,0.00012],
    [51.54,-0.00012],[51.62,-0.00026],[51.7,-0.00032],[51.77,-0.00037],[51.85,-0.0004],[51.93,-0.00034],[52.01,-0.00026],[52.08,-0.00016],
    [52.16,-0.0001],[52.24,-0.00006],[52.31,-0.00006],[52.39,0],[52.47,0.00008],[52.54,0.00014],[52.62,0.0002],[52.67,0.0002],
    [52.75,0.00012],[52.83,0.0001],[52.9,0.00014],[52.98,0.00017],[53.06,0.00008],[53.13,0.00008],[53.21,0.00012],[53.29,0.0001],
    [53.37,-0.00004],[53.44,-0.00006],[53.52,-0.00007],[53.6,-0.00009],[53.67,-0.00009],[53.75,-0.00008],[53.83,-0.00004],[53.91,0.00002],
    [53.98,0.00005],[54.06,0.00004],[54.14,-0.00002],[54.21,-0.00004],[54.29,-0.00001],[54.37,0.00002],[54.45,0.00003],[54.52,0.00003],
    [54.6,0.00002],[54.68,0.00001],[54.76,0.00004],[54.83,0],[54.91,-0.00001],[54.99,0.00006],[55.06,0.0001],[55.14,0.00008],
    [55.22,0.00006],[55.3,0.0001],[55.37,0.00014],[55.45,0.00015],[55.53,0.00012],[55.6,0.0001],[55.68,0.00004],[55.76,0.00002],
    [55.83,0],[55.91,-0.00004],[55.99,-0.00006],[56.07,-0.00006],[56.14,-0.00007],[56.22,-0.00009],[56.3,-0.0001],[56.37,-0.00012],
    [56.45,-0.00007],[56.53,-0.00004],[56.6,-0.00007],[56.68,-0.00004],[56.76,-0.00002],[56.83,-0.00001],[56.91,0],[57.0,0.00001]
];

const timeTicks = [0, 10, 20, 30, 40, 50];
const accTicks  = [-1, -0.5, 0, 0.5, 1];
const velTicks  = [-0.01, 0, 0.01];
const dispTicks = [-0.001, -0.0005, 0, 0.0005, 0.001];

const FONT = 'DejaVu Sans';
const SPINE = 3.3;

function minusSign(text) {
    return text.replace('-', '\u2212');
}

function timeAxis(gridIndex) {
    return {
        type: 'value', gridIndex: gridIndex,
        min: 0, max: 57, interval: 10,
        name: 'Time (s)', nameLocation: 'middle', nameGap: 84,
        nameTextStyle: { fontFamily: FONT, fontSize: 58.3, color: '#000' },
        axisLine: { show: true, onZero: false, lineStyle: { color: '#000', width: SPINE } },
        axisTick: { show: true, length: 14.6, customValues: timeTicks,
                    lineStyle: { color: '#000', width: SPINE } },
        axisLabel: { fontFamily: FONT, fontSize: 41.7, color: '#000', margin: 26,
                     customValues: timeTicks, showMinLabel: true, showMaxLabel: true },
        splitLine: { show: true, lineStyle: { color: '#b0b0b0', width: SPINE } }
    };
}

function valueAxis(gridIndex, name, nameGap, range, ticks, digits, extra) {
    var axis = {
        type: 'value', gridIndex: gridIndex,
        min: -range, max: range,
        name: name, nameLocation: 'middle', nameGap: nameGap,
        nameTextStyle: { fontFamily: FONT, fontSize: 58.3, color: '#000' },
        axisLine: { show: true, lineStyle: { color: '#000', width: SPINE } },
        axisTick: { show: true, length: 14.6, customValues: ticks,
                    lineStyle: { color: '#000', width: SPINE } },
        axisLabel: {
            fontFamily: FONT, fontSize: 41.7, color: '#000', margin: 30,
            customValues: ticks, showMinLabel: true, showMaxLabel: true,
            formatter: function (v) { return minusSign(v.toFixed(digits)); }
        },
        splitLine: { show: true, lineStyle: { color: '#b0b0b0', width: SPINE } }
    };
    return Object.assign(axis, extra || {});
}

function lineSeries(index, data, color) {
    return {
        type: 'line', xAxisIndex: index, yAxisIndex: index,
        data: data, showSymbol: false, symbol: 'none',
        lineStyle: { color: color, width: 6.5 },
        itemStyle: { color: color },
        clip: true, silent: true, animation: false
    };
}

var chart = echarts.init(document.getElementById('chart'), null, { renderer: 'canvas' });

var gridBox = { left: 328, right: 48, show: true, borderColor: '#000', borderWidth: SPINE,
                backgroundColor: 'transparent' };

chart.setOption({
    backgroundColor: '#fff',
    animation: false,
    textStyle: { fontFamily: FONT },
    grid: [
        Object.assign({ top: 82, height: 579 }, gridBox),
        Object.assign({ top: 856, height: 582 }, gridBox),
        Object.assign({ top: 1631, height: 581 }, gridBox)
    ],
    xAxis: [timeAxis(0), timeAxis(1), timeAxis(2)],
    yAxis: [
        valueAxis(0, 'Acceleration (cm/s/s)', 148, 1, accTicks, 1, { interval: 0.5 }),
        valueAxis(1, 'Velocity (cm/s)', 174, 0.0161, velTicks, 2, { splitNumber: 3 }),
        valueAxis(2, 'Displacement (cm)', 227, 0.00142, dispTicks, 4, { splitNumber: 5 })
    ],
    series: [
        lineSeries(0, accValues.map(function (v, i) { return [i * ACC_DT, v]; }), '#000000'),
        lineSeries(1, velocityPoints, '#0000ff'),
        lineSeries(2, displacementPoints, '#ff0000')
    ]
});
</script>
</body>
</html>
